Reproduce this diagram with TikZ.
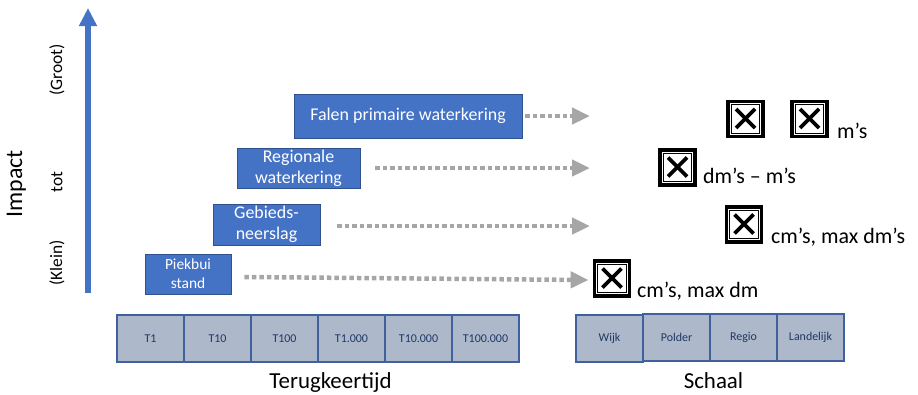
\documentclass[tikz,border=0pt]{standalone}
\usepackage{fontspec}
\setmainfont{Carlito}
\usetikzlibrary{arrows.meta}
\definecolor{boxblue}{HTML}{4472C4}
\definecolor{boxedge}{HTML}{2F528F}
\definecolor{dotgray}{HTML}{A6A6A6}
\definecolor{cellfill}{HTML}{ADB9CA}
\definecolor{celledge}{HTML}{41619E}
\definecolor{celltext}{HTML}{203864}
\tikzset{
  bluebox/.style={fill=boxblue, draw=boxedge, line width=0.8bp, text=white,
    align=center, inner sep=0pt, font=\fontsize{18}{21}\selectfont},
  dotarrow/.style={draw=dotgray, line width=4.5bp, dash pattern=on 4.5bp off 3bp,
    -{Triangle[length=18bp,width=16bp,fill=dotgray]}},
  symb/.style={draw=black, line width=3.8bp, minimum size=35bp, inner sep=0pt,
    path picture={
      \draw[line width=0.8bp] ([shift={(3.3bp,-3.3bp)}]path picture bounding box.north west)
        rectangle ([shift={(-3.3bp,3.3bp)}]path picture bounding box.south east);
      \draw[line width=3.6bp] ([shift={(-9.5bp,-9bp)}]path picture bounding box.center)
        -- ([shift={(9.5bp,10bp)}]path picture bounding box.center);
      \draw[line width=3.6bp] ([shift={(-9.5bp,10bp)}]path picture bounding box.center)
        -- ([shift={(9.5bp,-9bp)}]path picture bounding box.center);
    }},
  symtext/.style={anchor=base west, inner sep=0pt, font=\fontsize{22}{26}\selectfont},
  cell/.style={fill=cellfill, draw=celledge, line width=1.1bp, text=celltext,
    minimum width=67bp, minimum height=47bp, inner sep=0pt,
    font=\fontsize{12}{14}\selectfont},
  axlabel/.style={rotate=90, inner sep=0pt, font=\fontsize{17.5}{21}\selectfont},
  bottomlabel/.style={anchor=base, inner sep=0pt, font=\fontsize{23}{27}\selectfont}
}
\begin{document}
\begin{tikzpicture}[x=1bp,y=-1bp]
\useasboundingbox (0,0) rectangle (918,394);
% vertical axis
\coordinate (axb) at (88,293);
\coordinate (axt) at (88,8);
\draw[boxblue, line width=6bp, -{Triangle[length=18bp,width=17bp]}] (axb) -- (axt);
\node[axlabel, font=\fontsize{24}{28}\selectfont] (impact) at (16.5,184) {Impact};
\node[axlabel] (groot) at (57,70) {(Groot)};
\node[axlabel] (tot) at (57,182) {tot};
\node[axlabel] (klein) at (57,263) {(Klein)};
% blue boxes
\node[bluebox, minimum width=228bp, minimum height=44bp] (falen) at (408,116) {Falen primaire waterkering};
\node[bluebox, minimum width=123bp, minimum height=40bp] (regio) at (298.5,168) {Regionale\\waterkering};
\node[bluebox, minimum width=107bp, minimum height=41bp] (gebied) at (266.5,224.5) {Gebieds-\\neerslag};
\node[bluebox, minimum width=86bp, minimum height=40bp, font=\fontsize{15.5}{19}\selectfont] (piek) at (188,274) {Piekbui\\stand};
% symbols
\node[symb] (s1a) at (745.5,119) {};
\node[symb] (s1b) at (809.5,119) {};
\node[symb] (s2) at (677.5,167.5) {};
\node[symb] (s3) at (744,224.5) {};
\node[symb] (s4) at (612,278.5) {};
\node[symtext] (t1) at (837,138) {m’s};
\node[symtext] (t2) at (703,183) {dm’s – m’s};
\node[symtext] (t3) at (771,243) {cm’s, max dm’s};
\node[symtext] (t4) at (637,297) {cm’s, max dm};
% arrow ends
\coordinate (e1) at (590,116);
\coordinate (e2) at (590,168);
\coordinate (e3) at (590,226);
% dotted arrows
\draw[dotarrow] ([xshift=3bp]falen.east) -- (e1);
\draw[dotarrow] ([xshift=15bp]regio.east |- e2) -- (e2);
\draw[dotarrow] ([xshift=17bp]gebied.east |- e3) -- (e3);
\draw[dotarrow] ([xshift=13bp,yshift=-3bp]piek.east) -- ([xshift=-4bp,yshift=-1.5bp]s4.west);
% tables
\node[cell] (c1) at (150.5,338.5) {T1};
\node[cell] (c2) at (217.5,338.5) {T10};
\node[cell] (c3) at (284.5,338.5) {T100};
\node[cell] (c4) at (351.5,338.5) {T1.000};
\node[cell] (c5) at (418.5,338.5) {T10.000};
\node[cell] (c6) at (485.5,338.5) {T100.000};
\node[cell] (w1) at (609.5,338.5) {Wijk};
\node[cell] (w2) at (676.5,337.5) {Polder};
\node[cell] (w3) at (743.5,337.5) {Regio};
\node[cell] (w4) at (810.5,337.5) {Landelijk};
\node[bottomlabel] (terug) at (330.5,388.5) {Terugkeertijd};
\node[bottomlabel] (schaal) at (713.5,388.5) {Schaal};
\end{tikzpicture}
\end{document}
